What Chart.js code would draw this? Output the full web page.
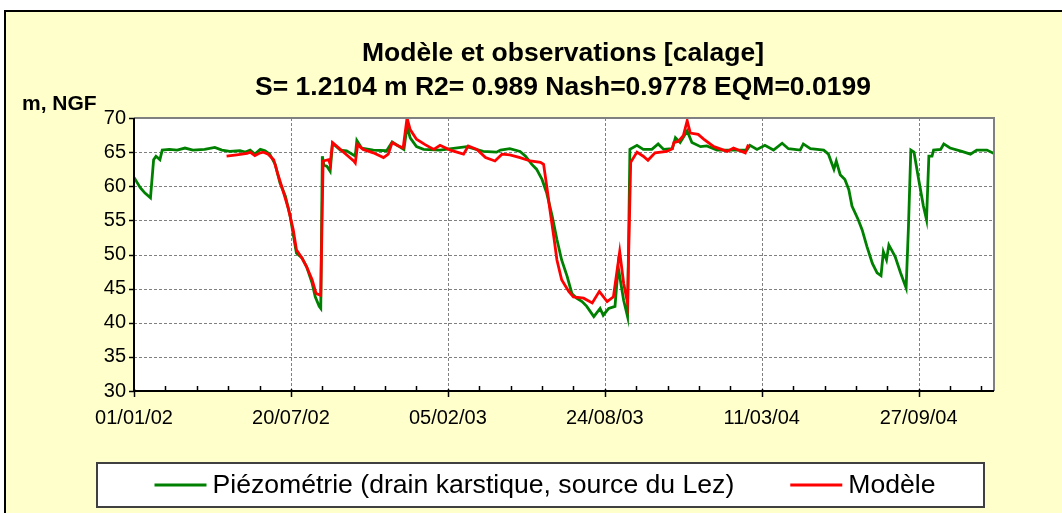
<!DOCTYPE html>
<html><head><meta charset="utf-8">
<script src="https://cdn.jsdelivr.net/npm/chart.js@4.4.1/dist/chart.umd.min.js"></script>
<style>
html,body{margin:0;padding:0;background:#fff;width:1062px;height:513px;overflow:hidden;}
#frame{position:absolute;left:4px;top:10px;width:1100px;height:600px;background:#FFFFCC;border-left:2px solid #000;border-top:2px solid #000;}
#wrap{position:absolute;left:0;top:0;width:1062px;height:513px;}
</style></head><body>
<div id="frame"></div>
<div id="wrap"><canvas id="c" width="1062" height="513"></canvas></div>
<script>
// Days counted from 01/01/02
const titleLines = ['Modèle et observations [calage]', 'S= 1.2104 m R2= 0.989 Nash=0.9778 EQM=0.0199'];
const yUnit = 'm, NGF';
const seriesNames = ['Piézométrie (drain karstique, source du Lez)', 'Modèle'];
const xMajorDays = [0, 200, 400, 600, 800, 1000];
const xTickLabels = ['01/01/02', '20/07/02', '05/02/03', '24/08/03', '11/03/04', '27/09/04'];
const xMinorStep = 40;
const xMaxDay = 1096;
const yMin = 30, yMax = 70, yStep = 5;

const obsDays = [
  0, 8, 14, 21, 25, 28, 33, 36, 45, 55,
  65, 75, 90, 103, 112, 122, 135, 142, 148, 154,
  161, 167, 173, 180, 186, 193, 199, 203, 207, 214,
  220, 227, 231, 236, 238, 240, 242, 246, 250, 253,
  263, 271, 282, 284, 290, 305, 322, 329, 341, 344,
  348, 352, 360, 369, 390, 424, 445, 462, 467, 479,
  492, 499, 507, 513, 520, 526, 533, 539, 545, 552,
  558, 564, 571, 577, 586, 594, 598, 605, 613, 617,
  624, 629, 632, 641, 649, 660, 668, 675, 686, 690,
  696, 705, 711, 722, 730, 743, 760, 781, 785, 794,
  804, 815, 826, 834, 849, 853, 862, 879, 885, 892,
  895, 900, 906, 911, 915, 923, 928, 934, 941, 947,
  952, 955, 959, 962, 970, 977, 984, 987, 990, 994,
  1000, 1006, 1010, 1013, 1017, 1019, 1028, 1032, 1040, 1055,
  1066, 1074, 1087, 1096
];
const obsLevels = [
  61.3, 59.8, 59.0, 58.3, 63.9, 64.4, 63.9, 65.3, 65.4, 65.3,
  65.6, 65.3, 65.4, 65.7, 65.3, 65.1, 65.2, 65.0, 65.3, 64.7,
  65.4, 65.2, 64.7, 63.2, 60.5, 58.5, 55.6, 52.9, 50.2, 49.5,
  48.2, 45.8, 43.8, 42.4, 42.1, 64.4, 63.1, 62.9, 62.2, 66.3,
  65.3, 65.2, 64.4, 66.7, 65.6, 65.3, 65.2, 66.5, 65.6, 65.4,
  68.8, 67.1, 65.8, 65.4, 65.3, 65.8, 65.1, 65.0, 65.3, 65.5,
  65.1, 64.4, 63.2, 62.5, 61.0, 59.0, 55.6, 52.2, 49.2, 46.8,
  44.3, 43.6, 43.1, 42.4, 40.9, 42.1, 41.1, 42.1, 42.4, 48.2,
  43.3, 40.9, 65.4, 66.0, 65.4, 65.4, 66.2, 65.4, 65.5, 67.1,
  66.4, 68.1, 66.4, 65.8, 65.9, 65.3, 65.3, 65.3, 66.0, 65.4,
  66.0, 65.3, 66.3, 65.5, 65.3, 66.2, 65.5, 65.3, 64.7, 62.5,
  63.7, 61.7, 61.0, 59.5, 57.1, 55.1, 53.6, 51.2, 48.7, 47.3,
  46.9, 50.4, 49.2, 51.4, 49.7, 47.3, 45.1, 54.1, 65.3, 65.0,
  61.0, 57.1, 55.1, 64.4, 64.4, 65.3, 65.4, 66.2, 65.6, 65.1,
  64.7, 65.3, 65.3, 64.8
];
const modDays = [
  118, 131, 144, 148, 154, 161, 165, 171, 178, 184,
  190, 197, 203, 207, 214, 220, 227, 232, 236, 238,
  241, 248, 250, 253, 263, 273, 280, 282, 285, 292,
  305, 318, 324, 329, 335, 343, 348, 352, 360, 371,
  382, 390, 403, 420, 426, 437, 448, 460, 469, 479,
  492, 505, 518, 522, 526, 530, 535, 539, 545, 554,
  560, 573, 584, 593, 603, 611, 619, 624, 629, 633,
  641, 649, 655, 664, 679, 686, 688, 694, 700, 705,
  709, 719, 726, 739, 756, 764, 779, 783
];
const modLevels = [
  64.4, 64.6, 64.8, 65.0, 64.5, 64.9, 65.0, 64.7, 63.9, 61.5,
  59.3, 56.6, 53.6, 50.7, 49.5, 48.2, 46.3, 44.3, 44.1, 44.0,
  63.7, 63.9, 63.2, 66.4, 65.4, 64.4, 63.7, 63.4, 66.1, 65.4,
  64.9, 64.2, 64.7, 66.4, 66.0, 65.6, 70.0, 68.3, 66.9, 66.1,
  65.4, 66.0, 65.3, 64.7, 65.9, 65.4, 64.2, 63.7, 64.7, 64.6,
  64.2, 63.7, 63.5, 63.2, 60.0, 56.6, 52.6, 49.2, 46.3, 44.6,
  43.8, 43.6, 42.9, 44.6, 43.1, 43.8, 50.4, 45.8, 42.9, 63.5,
  65.0, 64.4, 63.8, 64.9, 65.1, 65.5, 66.4, 66.6, 67.4, 69.6,
  67.8, 67.6, 66.9, 65.8, 65.1, 65.6, 64.9, 66.1
];

const GREEN = '#008000', RED = '#FF0000';
const FONT = '"Liberation Sans", Arial, sans-serif';

const toXY = (xs, ys) => xs.map((d, i) => ({x: d, y: ys[i]}));

const framePlugin = {
  id: 'frame',
  beforeDraw(chart) {
    const {ctx, chartArea: a} = chart;
    ctx.save();
    ctx.fillStyle = '#fff';
    ctx.fillRect(a.left, a.top, a.right - a.left, a.bottom - a.top);
    ctx.restore();
  },
  beforeDatasetsDraw(chart) {
    const {ctx, chartArea: a, scales: {x, y}} = chart;
    ctx.save();
    ctx.strokeStyle = '#808080';
    ctx.lineWidth = 1;
    ctx.setLineDash([3, 2]);
    for (let v = yMin + yStep; v < yMax; v += yStep) {
      const py = Math.round(y.getPixelForValue(v)) + 0.5;
      ctx.beginPath(); ctx.moveTo(a.left, py); ctx.lineTo(a.right, py); ctx.stroke();
    }
    xMajorDays.forEach(d => {
      if (d === 0) return;
      const px = Math.round(x.getPixelForValue(d)) + 0.5;
      ctx.beginPath(); ctx.moveTo(px, a.top); ctx.lineTo(px, a.bottom); ctx.stroke();
    });
    ctx.setLineDash([]);
    ctx.restore();
  },
  afterDatasetsDraw(chart) {
    const {ctx, chartArea: a, scales: {x, y}} = chart;
    ctx.save();
    ctx.strokeStyle = '#808080';
    ctx.lineWidth = 2;
    ctx.beginPath();
    ctx.moveTo(a.left, a.top); ctx.lineTo(a.right, a.top); ctx.lineTo(a.right, a.bottom);
    ctx.stroke();
    ctx.strokeStyle = '#000';
    ctx.lineWidth = 2;
    ctx.beginPath();
    ctx.moveTo(a.left, a.top); ctx.lineTo(a.left, a.bottom); ctx.lineTo(a.right, a.bottom);
    ctx.stroke();
    ctx.lineWidth = 1.5;
    for (let v = yMin; v <= yMax; v += yStep) {
      const py = Math.round(y.getPixelForValue(v)) + 0.5;
      ctx.beginPath(); ctx.moveTo(a.left - 5, py); ctx.lineTo(a.left, py); ctx.stroke();
    }
    for (let d = 0; d < xMaxDay; d += xMinorStep) {
      const px = Math.round(x.getPixelForValue(d)) + 0.5;
      const major = xMajorDays.includes(d);
      ctx.beginPath();
      ctx.moveTo(px, major ? a.bottom - 2 : a.bottom - 5);
      ctx.lineTo(px, major ? a.bottom + 6 : a.bottom);
      ctx.stroke();
    }
    ctx.restore();
  },
  afterDraw(chart) {
    const {ctx} = chart;
    ctx.save();
    ctx.fillStyle = '#000';
    ctx.textAlign = 'center';
    ctx.textBaseline = 'middle';
    ctx.font = 'bold 26.5px ' + FONT;
    ctx.fillText(titleLines[0], 563, 54);
    ctx.fillText(titleLines[1], 563, 88);
    ctx.textAlign = 'left';
    ctx.font = 'bold 21px ' + FONT;
    ctx.fillText(yUnit, 22, 104);
    const bx = 97, by = 463, bw = 887, bh = 44;
    ctx.fillStyle = '#fff';
    ctx.fillRect(bx, by, bw, bh);
    ctx.strokeStyle = '#404040';
    ctx.lineWidth = 2;
    ctx.strokeRect(bx, by, bw, bh);
    ctx.font = '26.6px ' + FONT;
    const lineW = 52, gap = 6, itemGap = 56;
    const widths = seriesNames.map(s => ctx.measureText(s).width);
    const total = widths.reduce((s, w) => s + lineW + gap + w, 0) + itemGap * (seriesNames.length - 1);
    let cx = 545 - total / 2;
    const cy = by + bh / 2;
    const colors = chart.data.datasets.map(ds => ds.borderColor);
    seriesNames.forEach((name, i) => {
      ctx.strokeStyle = colors[i];
      ctx.lineWidth = 3;
      ctx.beginPath(); ctx.moveTo(cx, cy); ctx.lineTo(cx + lineW, cy); ctx.stroke();
      cx += lineW + gap;
      ctx.fillStyle = '#000';
      ctx.fillText(name, cx, cy + 1);
      cx += widths[i] + itemGap;
    });
    ctx.restore();
  }
};

new Chart(document.getElementById('c'), {
  type: 'line',
  data: {
    datasets: [
      {label: seriesNames[0], data: toXY(obsDays, obsLevels), borderColor: GREEN, backgroundColor: GREEN,
       borderWidth: 2.8, pointRadius: 0, tension: 0, order: 2},
      {label: seriesNames[1], data: toXY(modDays, modLevels), borderColor: RED, backgroundColor: RED,
       borderWidth: 2.8, pointRadius: 0, tension: 0, order: 1}
    ]
  },
  options: {
    responsive: false, animation: false, devicePixelRatio: 1,
    layout: {padding: {left: 0, right: 68, top: 118, bottom: 0}},
    plugins: {legend: {display: false}, title: {display: false}, tooltip: {enabled: false}},
    scales: {
      x: {
        type: 'linear', min: 0, max: xMaxDay,
        afterBuildTicks: s => { s.ticks = xMajorDays.map(v => ({value: v})); },
        afterFit: s => { s.height = 122; },
        grid: {display: false, drawTicks: false}, border: {display: false},
        ticks: {autoSkip: false, maxRotation: 0, minRotation: 0, padding: 15, color: '#000',
                font: {family: FONT, size: 20},
                callback: v => xTickLabels[xMajorDays.indexOf(v)]}
      },
      y: {
        min: yMin, max: yMax,
        afterFit: s => { s.width = 134; },
        grid: {display: false, drawTicks: false}, border: {display: false},
        ticks: {stepSize: yStep, padding: 8, color: '#000', font: {family: FONT, size: 20}}
      }
    }
  },
  plugins: [framePlugin]
});
</script></body></html>
